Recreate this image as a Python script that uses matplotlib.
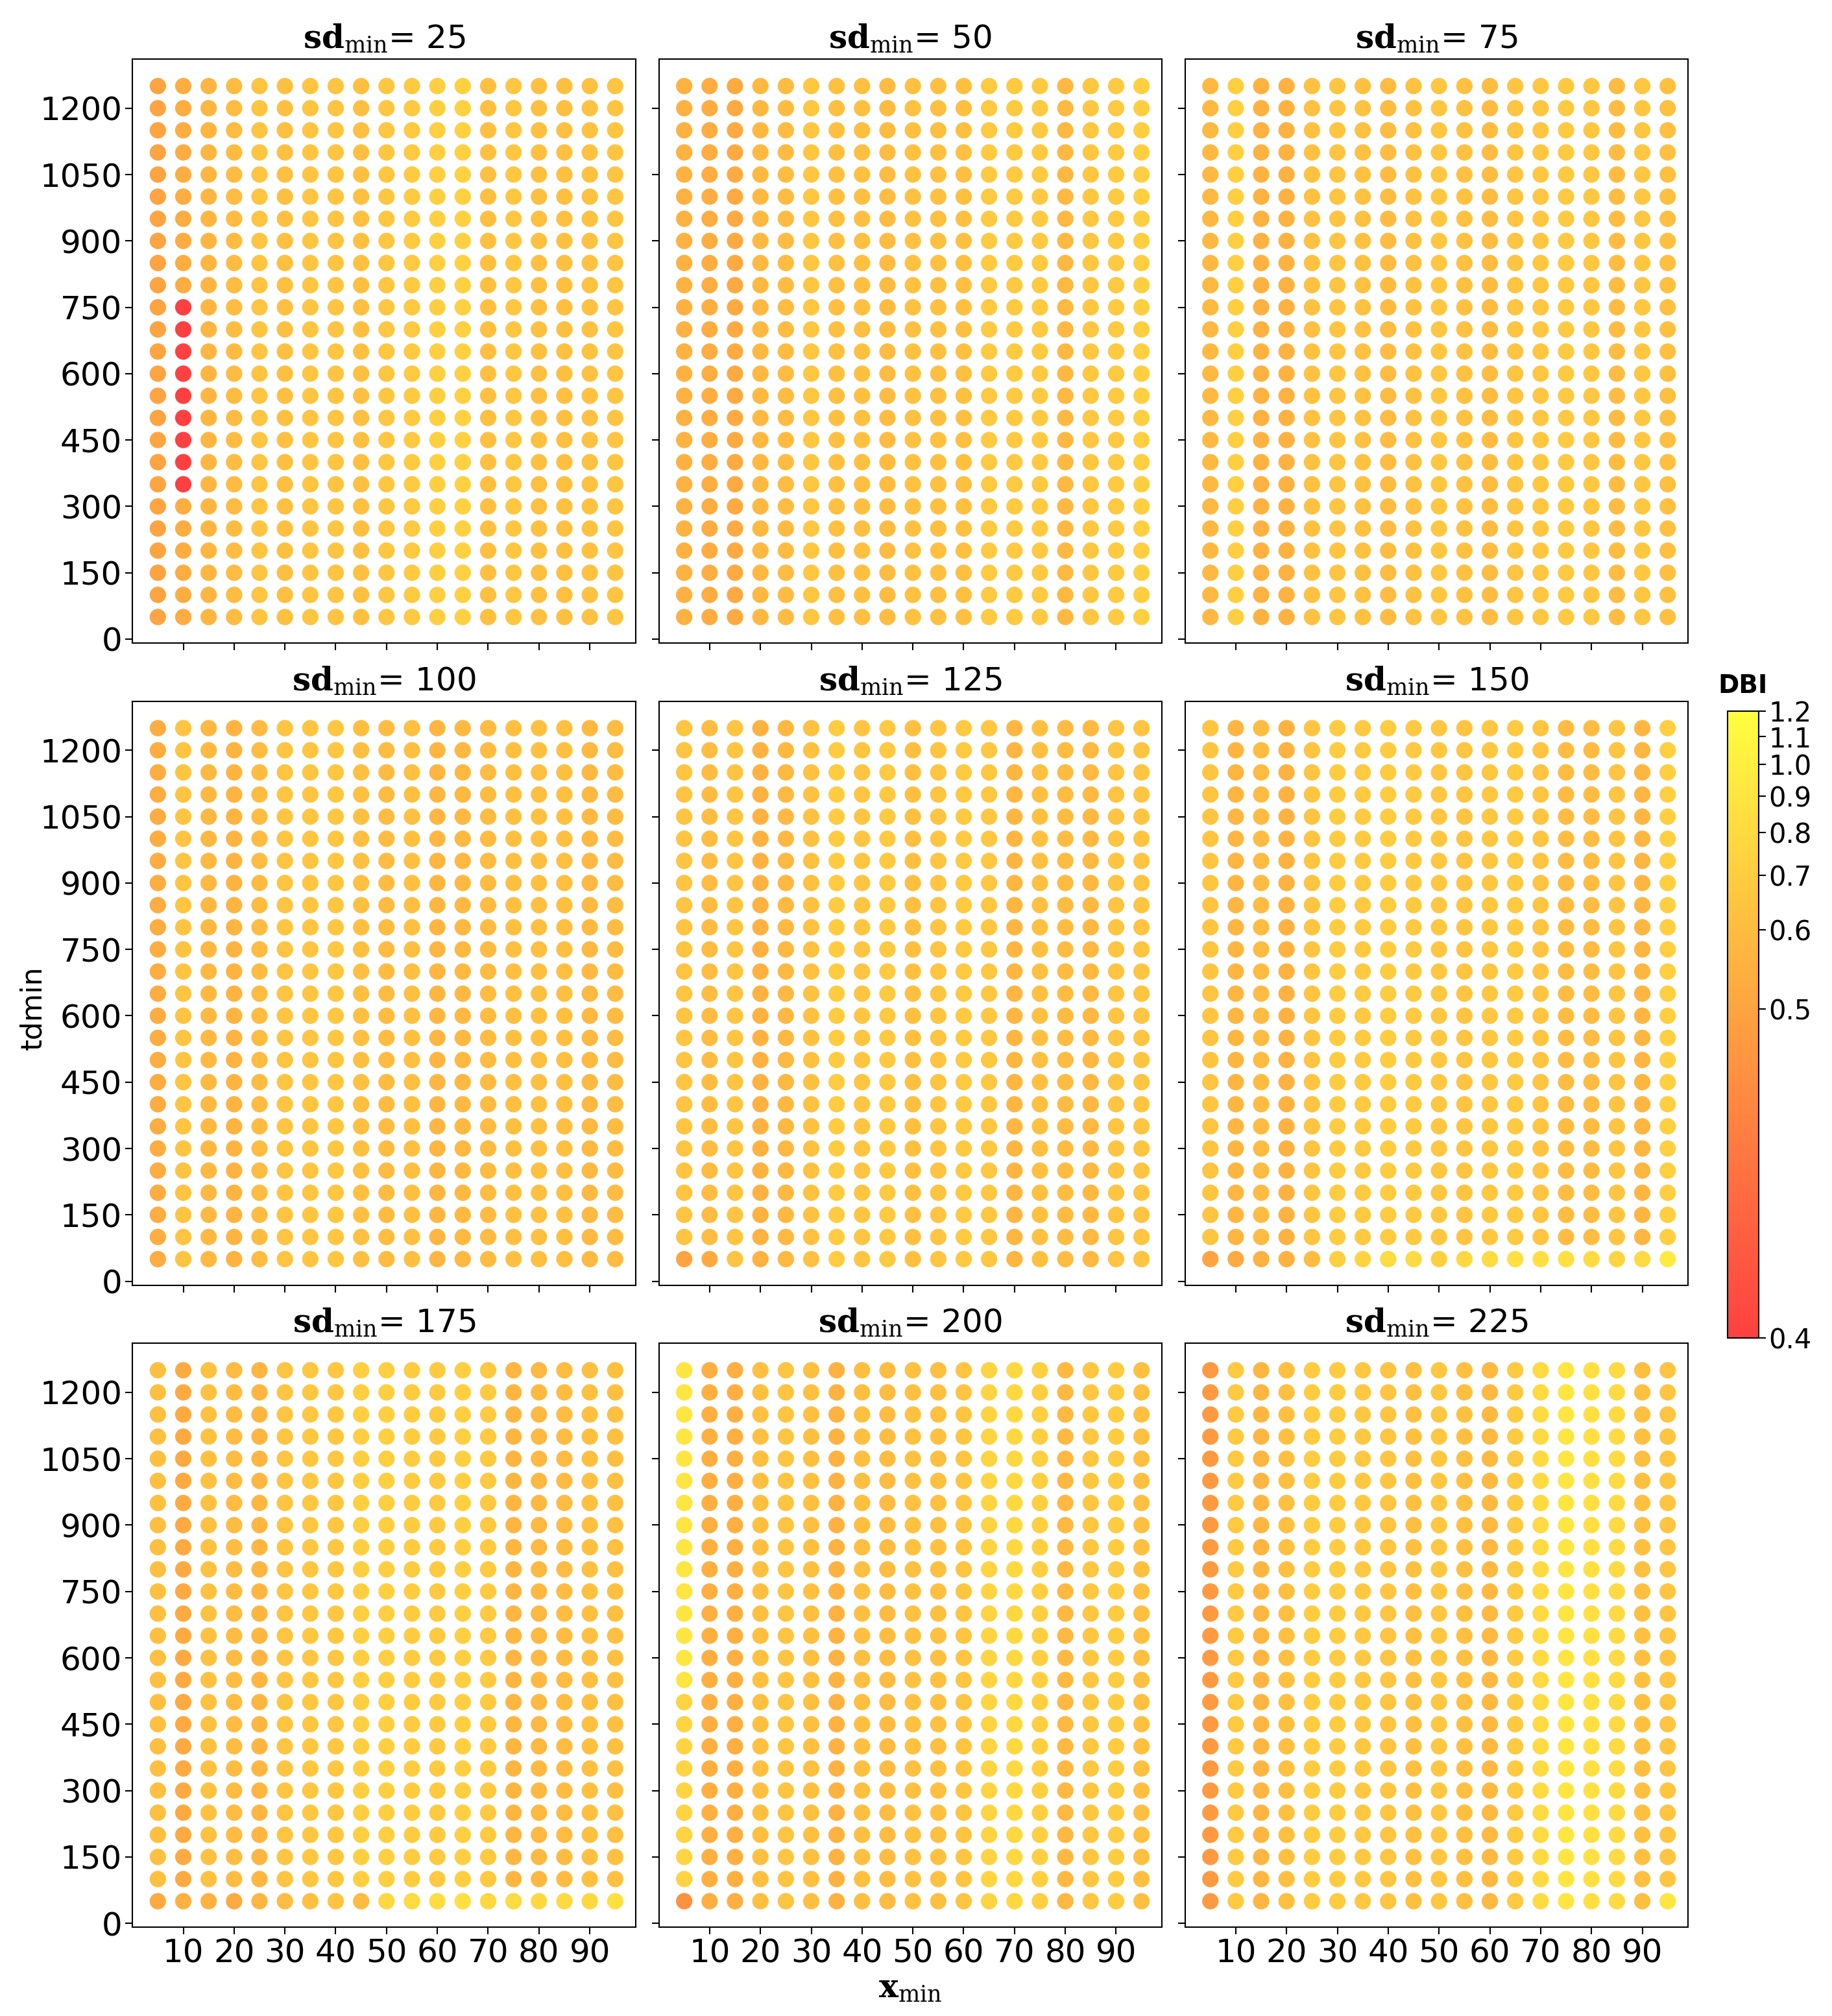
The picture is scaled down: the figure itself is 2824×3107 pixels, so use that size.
import numpy as np
import matplotlib
matplotlib.use("Agg")
import matplotlib.pyplot as plt
from matplotlib.colors import PowerNorm

plt.rcParams['font.family'] = ['Liberation Sans Narrow', 'DejaVu Sans']
plt.rcParams['mathtext.fontset'] = 'dejavuserif'

xmin_vals = list(range(5, 100, 5))          # 19 columns
tdmin_vals = list(range(50, 1300, 50))      # 25 rows
sd_vals = [25, 50, 75, 100, 125, 150, 175, 200, 225]

# DBI per column (x_min) for each panel
col_dbi = {
    25:  [0.50,0.53,0.57,0.60,0.64,0.62,0.65,0.64,0.62,0.66,0.68,0.72,0.73,0.62,0.66,0.62,0.62,0.63,0.65],
    50:  [0.55,0.53,0.52,0.58,0.60,0.66,0.62,0.62,0.60,0.63,0.62,0.62,0.68,0.68,0.68,0.58,0.66,0.68,0.72],
    75:  [0.58,0.72,0.55,0.55,0.63,0.65,0.63,0.60,0.63,0.66,0.63,0.60,0.64,0.66,0.68,0.66,0.60,0.66,0.62],
    100: [0.53,0.64,0.58,0.56,0.60,0.64,0.65,0.66,0.62,0.60,0.62,0.57,0.58,0.60,0.62,0.62,0.62,0.58,0.60],
    125: [0.64,0.60,0.64,0.55,0.58,0.63,0.70,0.65,0.68,0.62,0.64,0.68,0.66,0.57,0.62,0.60,0.58,0.64,0.64],
    150: [0.64,0.57,0.60,0.55,0.64,0.70,0.68,0.70,0.68,0.66,0.64,0.66,0.68,0.64,0.60,0.60,0.64,0.57,0.72],
    175: [0.62,0.52,0.63,0.60,0.57,0.65,0.66,0.66,0.72,0.72,0.70,0.68,0.72,0.68,0.57,0.58,0.60,0.62,0.62],
    200: [0.90,0.54,0.54,0.62,0.65,0.62,0.55,0.62,0.60,0.63,0.62,0.65,0.75,0.78,0.72,0.58,0.66,0.70,0.62],
    225: [0.47,0.68,0.57,0.62,0.70,0.70,0.67,0.65,0.62,0.66,0.62,0.58,0.68,0.80,0.90,0.85,0.80,0.62,0.65],
}
# bottom row (tdmin = 50) where it differs from the column values
bottom_dbi = {
    125: [0.50,0.52,0.64,0.55,0.58,0.63,0.70,0.65,0.68,0.62,0.64,0.68,0.66,0.57,0.62,0.60,0.58,0.64,0.64],
    150: [0.50,0.52,0.55,0.55,0.60,0.72,0.75,0.80,0.80,0.72,0.78,0.80,0.85,0.85,0.85,0.80,0.75,0.80,0.95],
    175: [0.52,0.55,0.55,0.52,0.57,0.60,0.62,0.65,0.60,0.78,0.80,0.82,0.85,0.78,0.80,0.78,0.80,0.78,0.85],
    200: [0.45,0.54,0.54,0.62,0.65,0.62,0.55,0.62,0.60,0.63,0.62,0.65,0.75,0.78,0.72,0.58,0.66,0.70,0.62],
    225: [0.47,0.68,0.57,0.62,0.70,0.70,0.67,0.65,0.62,0.66,0.62,0.58,0.68,0.80,0.90,0.85,0.80,0.62,0.90],
}
# individual exceptions: (sd, xmin, tdmin list, value)
exceptions = [
    (25, 10, [350, 400, 450, 500, 550, 600, 650, 700, 750], 0.40),
    (200, 5, [100, 150, 200, 250, 300, 350, 400, 450, 500], 0.75),
]

fig = plt.figure(figsize=(28.24, 31.07), dpi=100)
lefts = [0.0723, 0.3596, 0.6468]
bottoms = [0.681, 0.3625, 0.044]
w, h = 0.2746, 0.2897
norm = PowerNorm(gamma=0.31, vmin=0.4, vmax=1.2)
cmap = plt.get_cmap("autumn")
fs = 32
sc = None
for i, sd in enumerate(sd_vals):
    r, c = divmod(i, 3)
    ax = fig.add_axes([lefts[c], bottoms[r], w, h])
    X, Y = np.meshgrid(xmin_vals, tdmin_vals)
    Z = np.tile(np.array(col_dbi[sd]), (len(tdmin_vals), 1))
    if sd in bottom_dbi:
        Z[0, :] = bottom_dbi[sd]
    for esd, ex, tds, v in exceptions:
        if esd == sd:
            j = xmin_vals.index(ex)
            for t in tds:
                Z[tdmin_vals.index(t), j] = v
    sc = ax.scatter(X.ravel(), Y.ravel(), c=Z.ravel(), cmap=cmap, norm=norm,
                    s=330, alpha=0.75, edgecolors="none")
    ax.set_xlim(0, 99)
    ax.set_ylim(-9, 1311)
    ax.set_xticks(range(10, 100, 10))
    ax.set_yticks(range(0, 1201, 150))
    ax.tick_params(labelsize=fs + 4, length=8, width=1.5)
    if r < 2:
        ax.set_xticklabels([])
    if c > 0:
        ax.set_yticklabels([])
    for s in ax.spines.values():
        s.set_linewidth(1.5)
    ax.set_title(r"$\mathbf{sd}_{\mathrm{min}}$= " + str(sd), fontsize=fs + 4, pad=12)

fig.text(0.018, 0.5, "tdmin", rotation=90, fontsize=fs, ha="center", va="center")
fig.text(0.497, 0.006, r"$\mathbf{x}_{\mathrm{min}}$", fontsize=fs + 4, ha="center", va="bottom")

cax = fig.add_axes([0.943, 0.3363, 0.0169, 0.311])
cb = fig.colorbar(sc, cax=cax)
cb.solids.set_alpha(0.75)
cb.set_ticks([0.4, 0.5, 0.6, 0.7, 0.8, 0.9, 1.0, 1.1, 1.2])
cb.ax.tick_params(labelsize=fs - 2, length=8, width=1.5)
cb.outline.set_linewidth(1.5)
cax.set_title("DBI", fontsize=fs - 4, fontweight="bold", pad=20, family="DejaVu Sans")

fig.savefig("out.png", dpi=100)
